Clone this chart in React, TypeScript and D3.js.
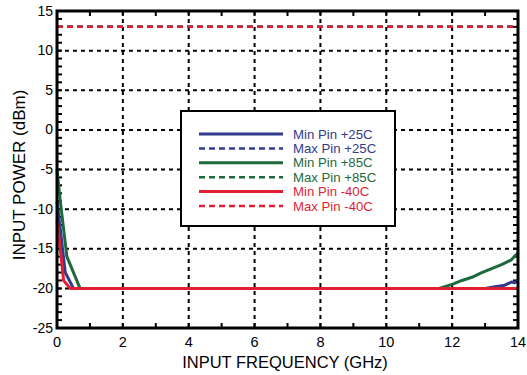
import React, { useEffect, useRef } from 'react';
import * as d3 from 'd3';

// series data (GHz, dBm)
const minPin25Freq = [0, 0.1, 0.25, 0.5, 13.0, 13.3, 13.6, 13.8, 13.9, 14];
const minPin25Pow = [-9, -12.5, -18, -20, -20, -19.8, -19.6, -19.2, -19.3, -19];
const minPin85Freq = [0, 0.1, 0.3, 0.7, 11.6, 12, 12.3, 12.6, 12.9, 13.2, 13.5, 13.8, 14];
const minPin85Pow = [-5, -9, -16, -20, -20, -19.5, -19, -18.6, -18, -17.5, -17, -16.4, -15.5];
const minPinM40Freq = [0, 0.1, 0.2, 0.4, 14];
const minPinM40Pow = [-11.5, -15, -19, -20, -20];
const maxPinFreq = [0, 14];
const maxPin25Pow = [13, 13];
const maxPin85Pow = [13, 13];
const maxPinM40Pow = [13, 13];

const xTicks = [0, 2, 4, 6, 8, 10, 12, 14];
const yTicks = [-25, -20, -15, -10, -5, 0, 5, 10, 15];

const BLUE = '#2f3d8c';
const GREEN = '#1d6a3a';
const RED = '#e01f35';

const series = [
  { name: 'Min Pin +85C', color: GREEN, dashed: false, x: minPin85Freq, y: minPin85Pow },
  { name: 'Min Pin +25C', color: BLUE, dashed: false, x: minPin25Freq, y: minPin25Pow },
  { name: 'Min Pin -40C', color: RED, dashed: false, x: minPinM40Freq, y: minPinM40Pow },
  { name: 'Max Pin +25C', color: BLUE, dashed: true, x: maxPinFreq, y: maxPin25Pow },
  { name: 'Max Pin +85C', color: GREEN, dashed: true, x: maxPinFreq, y: maxPin85Pow },
  { name: 'Max Pin -40C', color: RED, dashed: true, x: maxPinFreq, y: maxPinM40Pow },
];

const legendItems = [
  { name: 'Min Pin +25C', color: BLUE, dashed: false },
  { name: 'Max Pin +25C', color: BLUE, dashed: true },
  { name: 'Min Pin +85C', color: GREEN, dashed: false },
  { name: 'Max Pin +85C', color: GREEN, dashed: true },
  { name: 'Min Pin -40C', color: RED, dashed: false },
  { name: 'Max Pin -40C', color: RED, dashed: true },
];

export default function App() {
  const svgRef = useRef<SVGSVGElement>(null);

  useEffect(() => {
    if (!svgRef.current) return;
    const root = d3.select(svgRef.current);
    root.selectAll('*').remove();

    const left = 57, right = 518, top = 11, bottom = 328;
    const x = d3.scaleLinear().domain([0, 14]).range([left, right]);
    const y = d3.scaleLinear().domain([-25, 15]).range([bottom, top]);
    const font = 'Liberation Sans, Arial, Helvetica, sans-serif';

    // grid
    const grid = root.append('g');
    xTicks.slice(1, -1).forEach(t => {
      grid.append('line')
        .attr('x1', x(t)).attr('x2', x(t)).attr('y1', top).attr('y2', bottom)
        .attr('stroke', '#000').attr('stroke-width', 2).attr('stroke-dasharray', '4,4');
    });
    yTicks.slice(1, -1).forEach(t => {
      grid.append('line')
        .attr('x1', left).attr('x2', right).attr('y1', y(t)).attr('y2', y(t))
        .attr('stroke', '#000').attr('stroke-width', 2).attr('stroke-dasharray', '4,4');
    });

    // minor ticks (inside)
    const ticks = root.append('g').attr('stroke', '#000').attr('stroke-width', 2);
    d3.range(1, 14).forEach(t => {
      ticks.append('line').attr('x1', x(t)).attr('x2', x(t)).attr('y1', bottom).attr('y2', bottom - 5);
      ticks.append('line').attr('x1', x(t)).attr('x2', x(t)).attr('y1', top).attr('y2', top + 5);
    });
    d3.range(-24, 15).forEach(t => {
      ticks.append('line').attr('x1', left).attr('x2', left + 5).attr('y1', y(t)).attr('y2', y(t));
      ticks.append('line').attr('x1', right).attr('x2', right - 5).attr('y1', y(t)).attr('y2', y(t));
    });

    // curves
    const line = d3.line<[number, number]>().x(d => x(d[0])).y(d => y(d[1]));
    series.forEach(s => {
      const pts = s.x.map((f, i) => [f, s.y[i]] as [number, number]);
      root.append('path')
        .attr('d', line(pts)!)
        .attr('fill', 'none')
        .attr('stroke', s.color)
        .attr('stroke-width', s.dashed ? 2.5 : 3)
        .attr('stroke-dasharray', s.dashed ? '6,4' : null)
        .attr('stroke-linejoin', 'round');
    });

    // frame
    root.append('rect')
      .attr('x', left).attr('y', top)
      .attr('width', right - left).attr('height', bottom - top)
      .attr('fill', 'none').attr('stroke', '#000').attr('stroke-width', 3);

    // tick labels
    root.append('g').selectAll('text').data(xTicks).enter().append('text')
      .attr('x', d => x(d)).attr('y', 347)
      .attr('text-anchor', 'middle')
      .attr('font-family', font).attr('font-size', 14.5)
      .text(d => d);
    root.append('g').selectAll('text').data(yTicks).enter().append('text')
      .attr('x', 53).attr('y', d => y(d) + 4.5)
      .attr('text-anchor', 'end')
      .attr('font-family', font).attr('font-size', 14)
      .text(d => d);

    // axis titles
    root.append('text')
      .attr('x', 285).attr('y', 368)
      .attr('text-anchor', 'middle')
      .attr('font-family', font).attr('font-size', 16.5)
      .text('INPUT FREQUENCY (GHz)');
    root.append('text')
      .attr('transform', 'translate(25,175) rotate(-90)')
      .attr('text-anchor', 'middle')
      .attr('font-family', font).attr('font-size', 17)
      .text('INPUT POWER (dBm)');

    // legend
    const lg = root.append('g');
    lg.append('rect')
      .attr('x', 181).attr('y', 111).attr('width', 214).attr('height', 115)
      .attr('fill', '#fff').attr('stroke', '#000').attr('stroke-width', 2);
    legendItems.forEach((d, i) => {
      const ly = 134 + i * 14.4;
      lg.append('line')
        .attr('x1', 199).attr('x2', 283).attr('y1', ly).attr('y2', ly)
        .attr('stroke', d.color).attr('stroke-width', d.dashed ? 2.5 : 3)
        .attr('stroke-dasharray', d.dashed ? '6,4' : null);
      lg.append('text')
        .attr('x', 293).attr('y', ly + 4.5)
        .attr('fill', d.color)
        .attr('font-family', font).attr('font-size', 13.2)
        .text(d.name);
    });
  }, []);

  return (
    <svg ref={svgRef} width={527} height={375}
      style={{ position: 'absolute', left: 0, top: 0, background: '#fff' }} />
  );
}
